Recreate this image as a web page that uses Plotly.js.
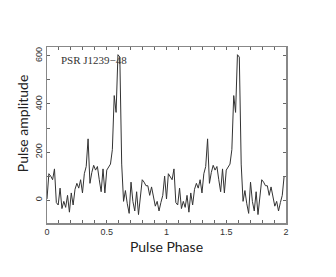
<!DOCTYPE html>
<html>
<head>
<meta charset="utf-8">
<script src="https://cdn.plot.ly/plotly-3.0.1.min.js"></script>
<style>
  html, body { margin: 0; padding: 0; background: #fff; }
  #plot { width: 336px; height: 277px; }
</style>
</head>
<body>
<div id="plot"></div>
<script>
// one pulse period, 64 phase bins
const profile = [
  5, 110, 100, 85, 130, -10, -20, 50, -35, -5, -30, 20, -50, 30, -20, 45,
  70, 50, 85, 30, 110, 140, 255, 70, 115, 145, 125, 140, 85, 35, 130, 30,
  125, 140, 150, 210, 435, 365, 605, 595, 150, -5, 40, -15, -55, 75, -5, -45,
  35, -60, 20, 85, 75, 60, 60, 20, 55, 10, -25, -5, -45, -10, 20, 100
];
const nCycles = 2;
const pulsarName = 'PSR J1239\u221248';
const xTickVals = [0, 0.5, 1, 1.5, 2];
const xTickText = ['0', '0.5', '1', '1.5', '2'];
const yTickVals = [0, 200, 400, 600];

// profile is plotted twice, phase 0..2
const phase = [];
const amp = [];
for (let c = 0; c < nCycles; c++) {
  profile.forEach((v, i) => {
    phase.push(c + i / profile.length);
    amp.push(v);
  });
}

const trace = {
  x: phase,
  y: amp,
  mode: 'lines',
  line: {color: '#333', width: 1},
  hoverinfo: 'skip'
};

const tickFont = {family: 'Liberation Sans, Arial, sans-serif', size: 9, color: '#333'};
const titleFont = {family: 'Lato, Open Sans, sans-serif', size: 14, color: '#222'};

const layout = {
  width: 336,
  height: 277,
  margin: {l: 47, r: 50, t: 47, b: 54, pad: 0},
  paper_bgcolor: '#fff',
  plot_bgcolor: '#fff',
  showlegend: false,
  xaxis: {
    range: [0, 2],
    tickvals: xTickVals,
    ticktext: xTickText,
    ticks: 'inside',
    ticklen: 3,
    tickcolor: '#666',
    tickfont: tickFont,
    showline: true,
    linecolor: '#888',
    linewidth: 1.5,
    mirror: 'ticks',
    showgrid: false,
    zeroline: false,
    minor: {dtick: 0.1, ticks: 'inside', ticklen: 3, tickcolor: '#666', showgrid: false},
    title: {text: 'Pulse Phase', font: titleFont, standoff: 6}
  },
  yaxis: {
    range: [-95, 637],
    tickvals: yTickVals,
    ticks: 'inside',
    ticklen: 3,
    tickcolor: '#666',
    tickfont: tickFont,
    tickangle: -90,
    showline: true,
    linecolor: '#888',
    linewidth: 1.5,
    mirror: 'ticks',
    showgrid: false,
    zeroline: false,
    minor: {dtick: 100, ticks: 'inside', ticklen: 3, tickcolor: '#666', showgrid: false}
  },
  annotations: [
    {
      text: 'Pulse amplitude',
      xref: 'paper', yref: 'paper',
      x: -0.102, y: 0.565,
      xanchor: 'center', yanchor: 'middle',
      textangle: -90,
      showarrow: false,
      font: titleFont
    },
    {
      text: pulsarName,
      xref: 'paper', yref: 'paper',
      x: 0.05, y: 0.925,
      xanchor: 'left', yanchor: 'middle',
      showarrow: false,
      font: {family: 'Liberation Serif, Times New Roman, serif', size: 11, color: '#333'}
    }
  ]
};

Plotly.newPlot('plot', [trace], layout, {staticPlot: true, displayModeBar: false});
</script>
</body>
</html>
